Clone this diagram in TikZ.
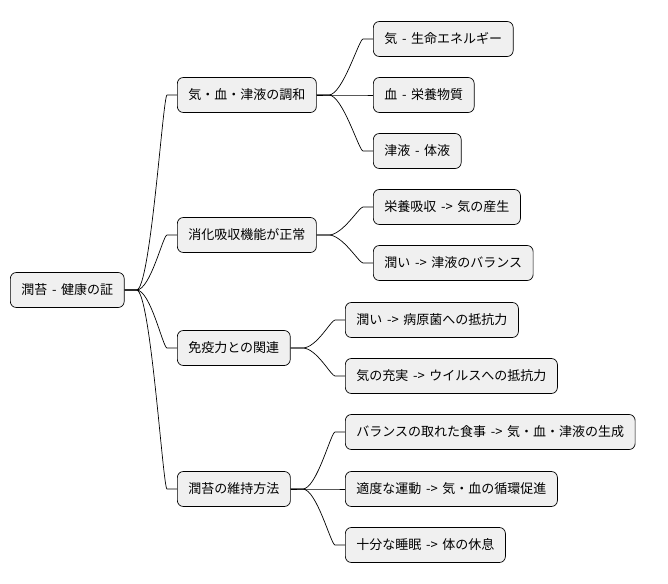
\documentclass[tikz,border=0pt]{standalone}
\usepackage{fontspec}
\setmainfont[WordSpace=1.6]{Noto Sans CJK JP}
\usetikzlibrary{positioning}
\begin{document}
\begin{tikzpicture}[x=1pt,y=-1pt,
  topic/.style ={draw=black,fill=black!6,rounded corners=6pt,line width=0.7pt,
                 minimum height=35pt,inner xsep=11pt,anchor=west,
                 font=\fontsize{13}{15}\selectfont},
  branch/.style={line width=0.7pt}
]
  \useasboundingbox (0,0) rectangle (668,583);

  % ----- root -----
  \node[topic] (root) at (10,290) {潤苔 - 健康の証};

  % ----- first level -----
  \node[topic] (harmony) at (177,95)  {気・血・津液の調和};
  \node[topic] (digest)  at (177,235) {消化吸収機能が正常};
  \node[topic] (immune)  at (177,348) {免疫力との関連};
  \node[topic] (keep)    at (177,489) {潤苔の維持方法};

  % ----- second level -----
  \node[topic] (qi)     at (373,39)  {気 - 生命エネルギー};
  \node[topic] (blood)  at (373,95)  {血 - 栄養物質};
  \node[topic] (fluid)  at (373,151) {津液 - 体液};
  \node[topic] (absorb) at (373,207) {栄養吸収 -> 気の産生};
  \node[topic] (moist)  at (373,263) {潤い -> 津液のバランス};
  \node[topic] (germ)   at (345,320) {潤い -> 病原菌への抵抗力};
  \node[topic] (virus)  at (345,376) {気の充実 -> ウイルスへの抵抗力};
  \node[topic] (meal)   at (345,432) {バランスの取れた食事 -> 気・血・津液の生成};
  \node[topic] (sport)  at (345,489) {適度な運動 -> 気・血の循環促進};
  \node[topic] (sleep)  at (345,545) {十分な睡眠 -> 体の休息};

  % ----- connectors -----
  \foreach \p/\c in {root/harmony,root/digest,root/immune,root/keep,
                     harmony/qi,harmony/blood,harmony/fluid,
                     digest/absorb,digest/moist,
                     immune/germ,immune/virus,
                     keep/meal,keep/sport,keep/sleep}
    \draw[branch] (\p.east) -- ++(12,0)
      .. controls +(14,0) and ([xshift=-14pt]\c.west) .. ([xshift=-10pt]\c.west)
      -- (\c.west);
\end{tikzpicture}
\end{document}
